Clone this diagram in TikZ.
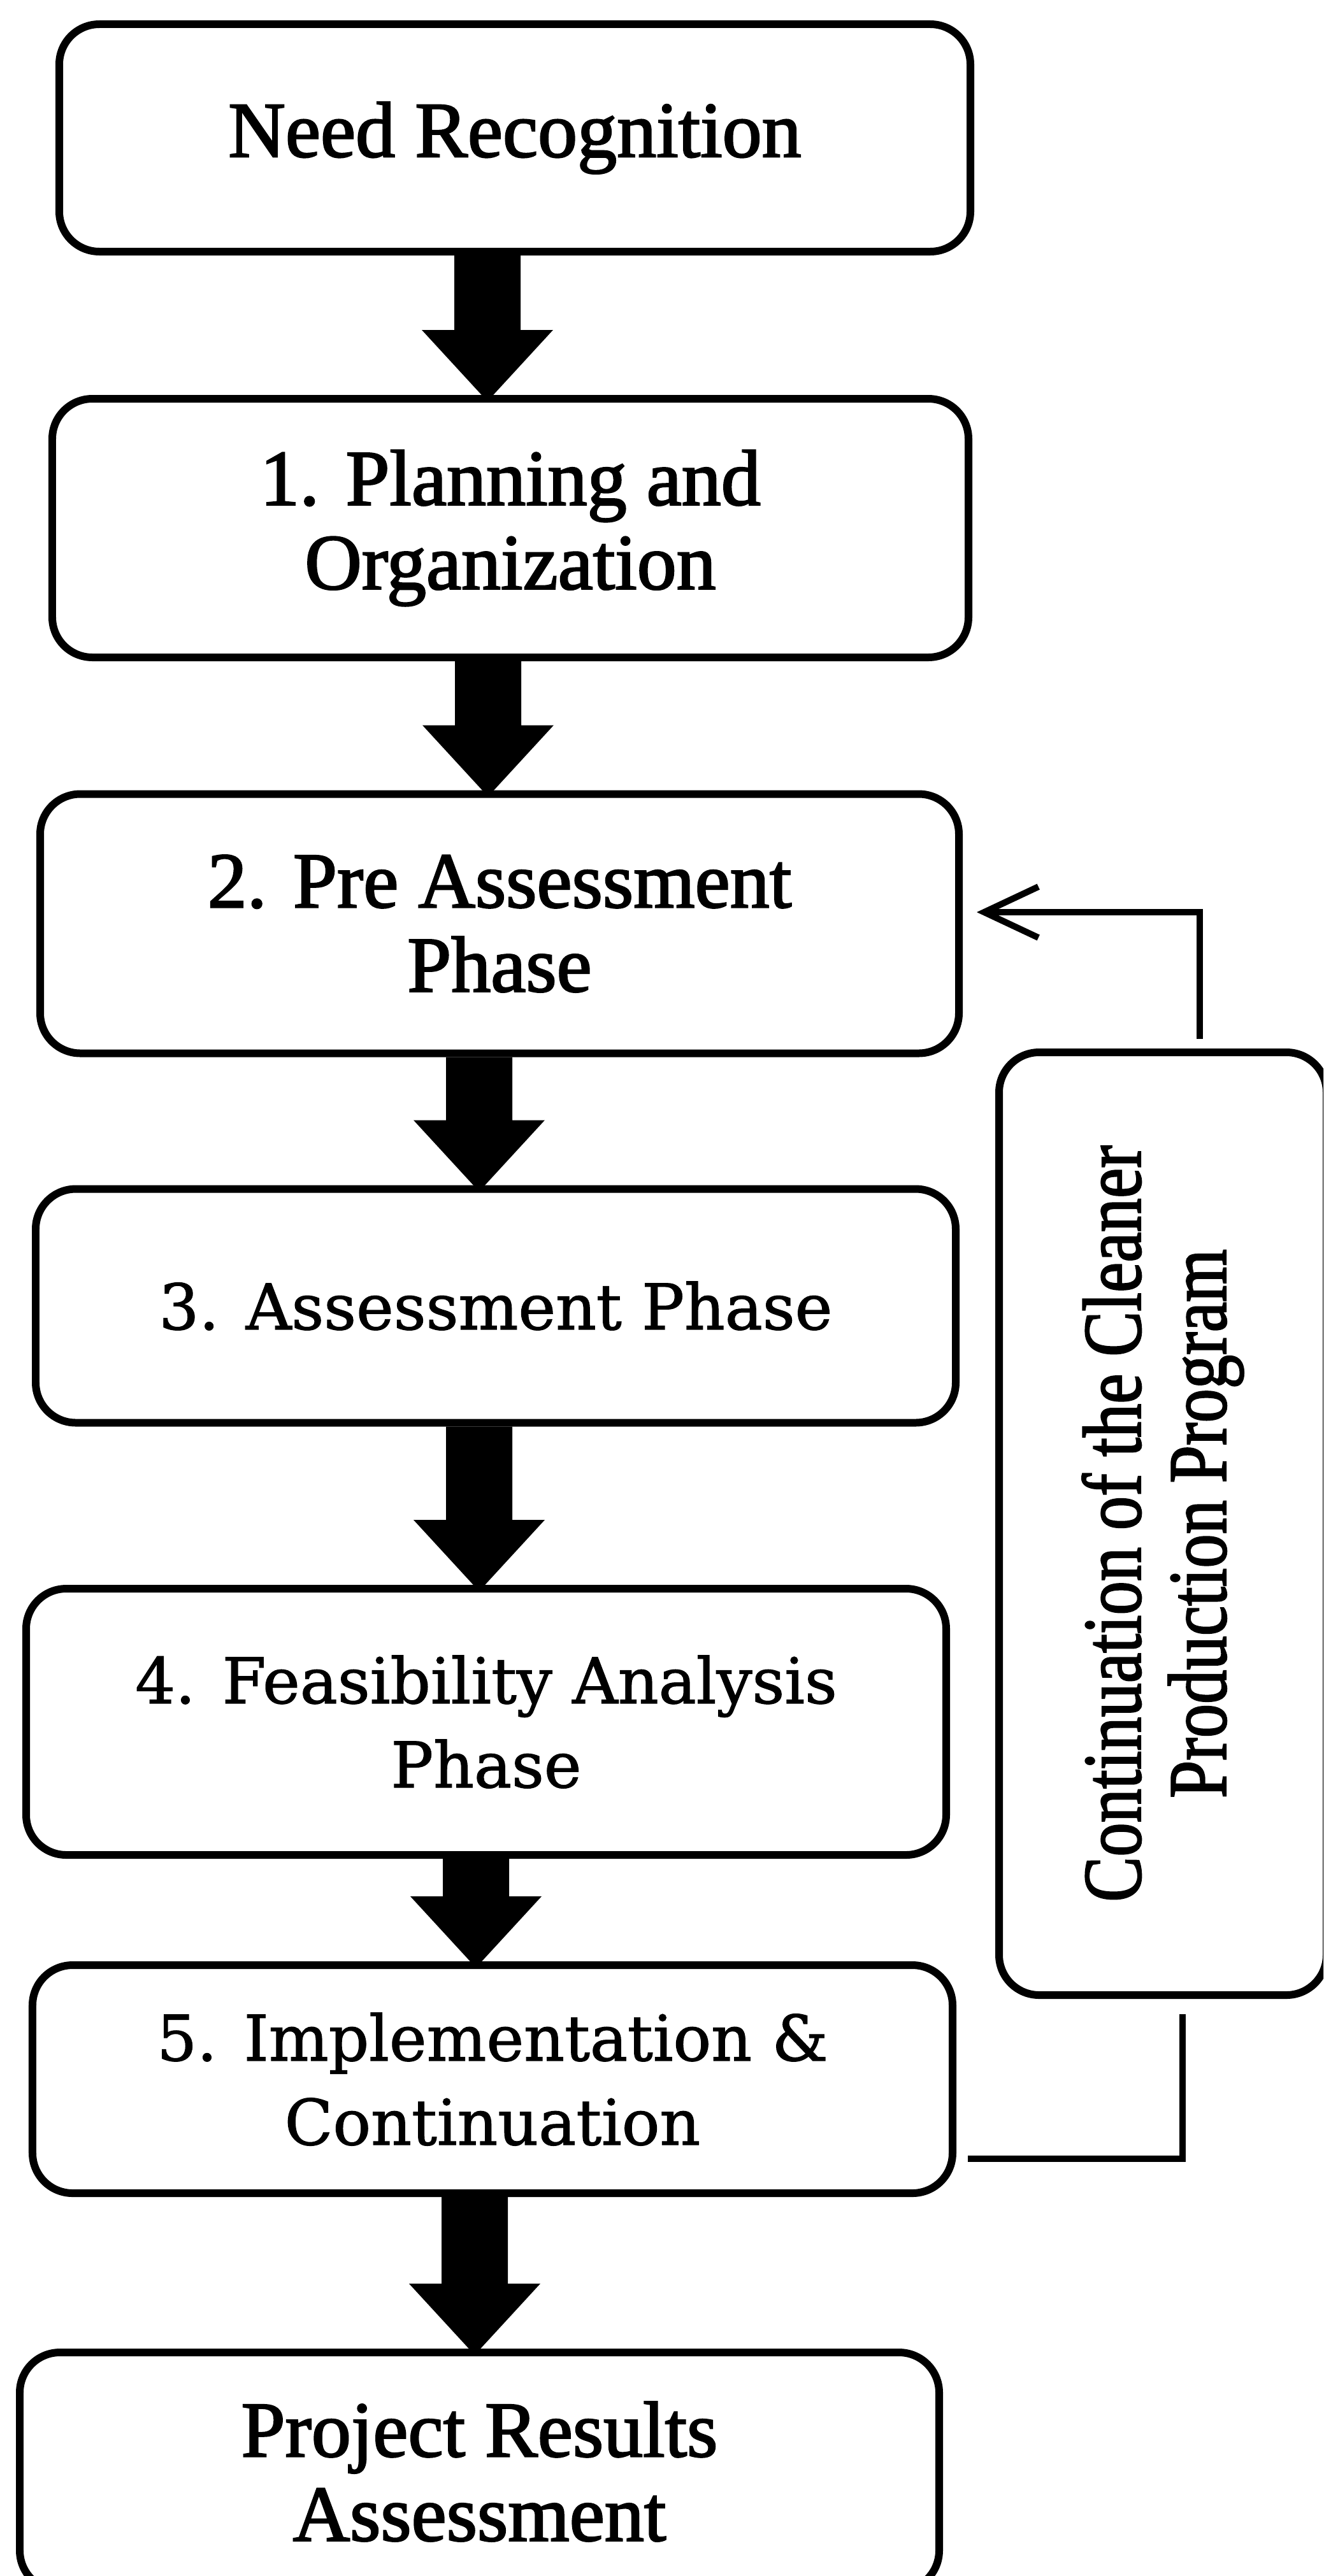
\documentclass[tikz,border=0pt]{standalone}
\usepackage{fontspec}
\setmainfont{Liberation Serif}
\newfontfamily\timesheavy{Liberation Serif}[FakeBold=2]
\newfontfamily\widefont{DejaVu Serif}[FakeBold=1.2]
\usetikzlibrary{arrows.meta,calc}
\tikzset{
  stage/.style={draw, line width=0.12cm, rounded corners=0.63cm, align=center, inner sep=0pt},
  timesfont/.style={font=\timesheavy\fontsize{35.3}{37.6}\selectfont},
  widetext/.style={font=\widefont\fontsize{28.2}{37.6}\selectfont},
  sidefont/.style={font=\timesheavy\fontsize{37}{38.1}\selectfont},
  fbline/.style={line width=0.1cm},
}
\newcommand\bigarrow[3]{%
  \fill let \p1=(#1.south), \p2=(#2.north) in
    ({#3cm-0.52cm},\y1) -- ({#3cm+0.52cm},\y1) -- ({#3cm+0.52cm},{\y2+1.02cm})
    -- ({#3cm+1.03cm},{\y2+1.02cm}) -- (#3cm,{\y2-0.1cm}) -- ({#3cm-1.03cm},{\y2+1.02cm})
    -- ({#3cm-0.52cm},{\y2+1.02cm}) -- cycle;}
\begin{document}
\begin{tikzpicture}[y=-1cm]
\useasboundingbox (0,0) rectangle (20.77,40.44);
\clip (0,0) rectangle (20.77,40.44);

\node[stage,timesfont,minimum width=14.30cm,minimum height=3.57cm] (need) at (8.08,2.165) {Need Recognition};
\node[stage,timesfont,minimum width=14.38cm,minimum height=4.06cm] (plan) at (8.01,8.29) {1. Planning and\\Organization};
\node[stage,timesfont,minimum width=14.42cm,minimum height=4.07cm] (pre) at (7.84,14.50) {2. Pre Assessment\\Phase};
\node[stage,widetext,minimum width=14.44cm,minimum height=3.67cm] (assess) at (7.78,20.50) {3. Assessment Phase};
\node[stage,widetext,minimum width=14.44cm,minimum height=4.18cm] (feas) at (7.63,27.03) {4. Feasibility Analysis\\Phase};
\node[stage,widetext,minimum width=14.44cm,minimum height=3.58cm] (impl) at (7.73,32.64) {5. Implementation \&\\Continuation};
\node[stage,timesfont,minimum width=14.43cm,minimum height=3.74cm] (res) at (7.525,38.80) {Project Results\\Assessment};
\node[stage,sidefont,rotate=90,minimum width=14.80cm,minimum height=5.14cm] (cont) at (18.25,23.92)
  {\scalebox{0.82}[1]{Continuation of the Cleaner}\\\scalebox{0.82}[1]{Production Program}};

\bigarrow{need}{plan}{7.65}
\bigarrow{plan}{pre}{7.66}
\bigarrow{pre}{assess}{7.52}
\bigarrow{assess}{feas}{7.52}
\bigarrow{feas}{impl}{7.47}
\bigarrow{impl}{res}{7.45}

\draw[fbline,-{Straight Barb[length=0.85cm,width=0.8cm]}]
  ([xshift=0.58cm,yshift=0.15cm]cont.east) |- ([xshift=0.22cm,yshift=0.18cm]pre.east);
\draw[fbline]
  ([xshift=0.18cm,yshift=-1.25cm]impl.east) -| ([xshift=0.31cm,yshift=-0.24cm]cont.west);
\end{tikzpicture}
\end{document}
